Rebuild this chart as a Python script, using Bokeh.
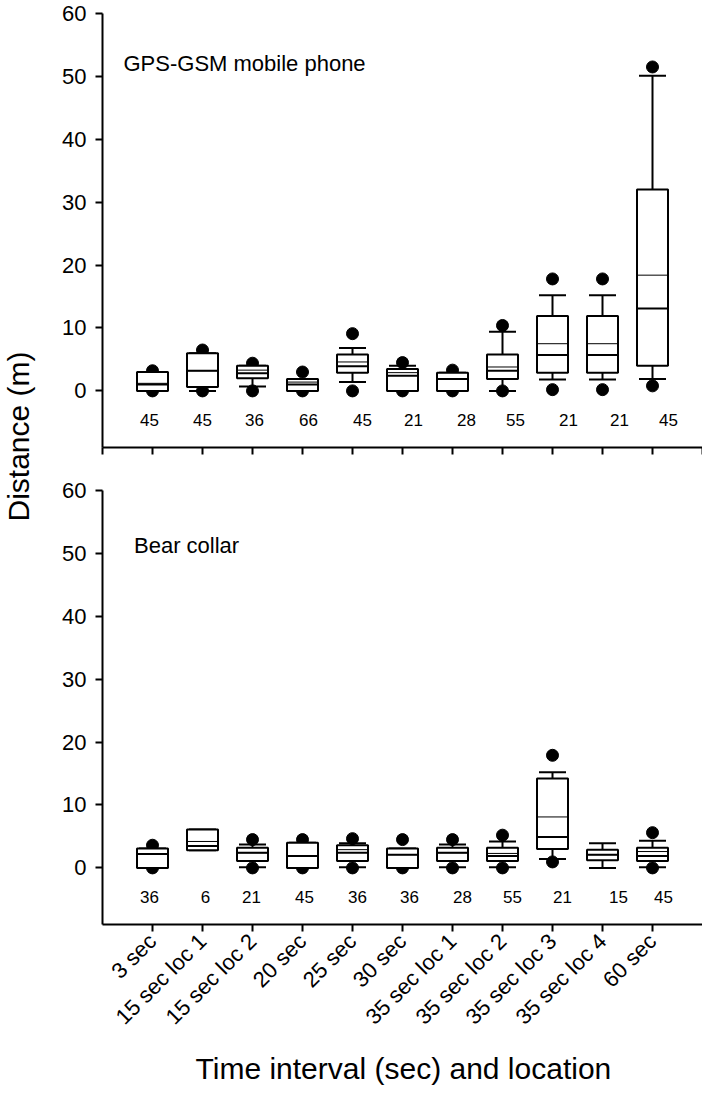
import numpy as np
from bokeh.plotting import figure
from bokeh.models import FixedTicker, Label, ColumnDataSource
from bokeh.layouts import row, column
from bokeh.embed import file_html
from bokeh.resources import INLINE
from bokeh.core.properties import value

# ---------------- data ----------------
categories = ["3 sec", "15 sec loc 1", "15 sec loc 2", "20 sec", "25 sec", "30 sec",
              "35 sec loc 1", "35 sec loc 2", "35 sec loc 3", "35 sec loc 4", "60 sec"]

# GPS-GSM mobile phone (m)
phone_q1 = [0.0, 0.6, 2.0, 0.0, 2.9, 0.0, 0.0, 1.9, 2.9, 2.9, 4.0]
phone_median = [1.0, 3.2, 2.8, 1.0, 3.9, 2.4, 1.9, 3.2, 5.7, 5.7, 13.1]
phone_mean = [1.2, 3.2, 3.3, 1.4, 4.6, 2.9, 1.9, 3.8, 7.5, 7.5, 18.4]
phone_q3 = [3.0, 6.0, 4.0, 1.9, 5.8, 3.5, 2.9, 5.8, 11.9, 11.9, 32.0]
phone_wlo = [0.0, 0.0, 0.7, 0.0, 1.4, 0.0, 0.0, 0.0, 1.8, 1.8, 1.9]
phone_whi = [3.0, 6.0, 4.0, 1.9, 6.8, 4.0, 2.9, 9.4, 15.2, 15.2, 50.1]
phone_plo = [0.0, 0.0, 0.0, 0.0, 0.0, 0.0, 0.0, 0.0, 0.2, 0.2, 0.8]
phone_phi = [3.2, 6.5, 4.4, 3.0, 9.1, 4.5, 3.3, 10.4, 17.8, 17.8, 51.5]
phone_n = [45, 45, 36, 66, 45, 21, 28, 55, 21, 21, 45]

# Bear collar (m)
collar_q1 = [0.0, 2.8, 1.1, 0.0, 1.1, 0.0, 1.1, 1.1, 3.0, 1.2, 1.1]
collar_median = [2.2, 3.5, 2.4, 1.9, 2.4, 2.1, 2.4, 1.9, 4.9, 2.1, 1.9]
collar_mean = [2.2, 4.2, 2.4, 1.9, 2.9, 2.1, 2.4, 2.3, 8.1, 2.1, 2.6]
collar_q3 = [3.1, 6.1, 3.2, 4.0, 3.6, 3.1, 3.2, 3.2, 14.2, 2.9, 3.2]
collar_wlo = [0.0, 2.8, 0.1, 0.0, 0.1, 0.0, 0.1, 0.1, 1.4, 0.0, 0.1]
collar_whi = [3.1, 6.1, 3.7, 4.0, 3.9, 3.1, 3.7, 4.2, 15.2, 3.9, 4.3]
collar_plo = [0.0, None, 0.0, 0.0, 0.0, 0.0, 0.0, 0.0, 0.95, None, 0.0]
collar_phi = [3.6, None, 4.5, 4.5, 4.65, 4.5, 4.5, 5.2, 17.9, None, 5.6]
collar_n = [36, 6, 21, 45, 36, 36, 28, 55, 21, 15, 45]

y_ticks = [0, 10, 20, 30, 40, 50, 60]

# ---------------- style ----------------
FONT = "Liberation Sans"
BOX_HALF = 0.31
CAP_HALF = 0.27
N_Y = -4.7
# small horizontal shifts (px) of the n labels, as placed in the original
phone_n_shift_px = [-3, 0, 2, 6, 10, 11, 14, 13, 16, 17, 16]
collar_n_shift_px = [-3, 3, -1, 2, 5, 7, 10, 10, 10, 16, 11]


def arr(v):
    return np.array([np.nan if a is None else a for a in v], dtype=float)


def bare(p):
    p.xgrid.visible = False
    p.ygrid.visible = False
    p.outline_line_color = None
    p.background_fill_color = "white"
    p.border_fill_color = "white"


def style(p):
    bare(p)
    p.yaxis.ticker = FixedTicker(ticks=y_ticks)
    for ax in list(p.xaxis) + list(p.yaxis):
        ax.axis_line_width = 2
        ax.axis_line_color = "black"
        ax.major_tick_line_width = 2
        ax.major_tick_line_color = "black"
        ax.major_tick_out = 7
        ax.major_tick_in = 0
        ax.minor_tick_out = 0
        ax.minor_tick_in = 0
        ax.major_label_text_font = FONT
        ax.major_label_text_font_size = "22px"
        ax.major_label_text_color = "black"
    p.yaxis.major_label_standoff = 9


def draw_boxes(p, q1, med, mean, q3, wlo, whi, plo, phi, n, shift_px, px_per_unit):
    xs = np.arange(1, len(categories) + 1, dtype=float)
    q1, med, mean, q3 = arr(q1), arr(med), arr(mean), arr(q3)
    wlo, whi, plo, phi = arr(wlo), arr(whi), arr(plo), arr(phi)

    # percentile dots (drawn first, boxes cover them)
    for pts in (plo, phi):
        m = ~np.isnan(pts)
        p.scatter(xs[m], pts[m], size=12, color="black")

    # whisker stems
    p.segment(xs, q3, xs, whi, line_color="black", line_width=2)
    p.segment(xs, q1, xs, wlo, line_color="black", line_width=2)
    # caps
    p.segment(xs - CAP_HALF, whi, xs + CAP_HALF, whi, line_color="black", line_width=2)
    p.segment(xs - CAP_HALF, wlo, xs + CAP_HALF, wlo, line_color="black", line_width=2)

    # boxes
    p.quad(left=xs - BOX_HALF, right=xs + BOX_HALF, bottom=q1, top=q3,
           fill_color="white", line_color="black", line_width=2)
    # median (thick) and mean (thin)
    p.segment(xs - BOX_HALF, med, xs + BOX_HALF, med, line_color="black", line_width=2)
    p.segment(xs - BOX_HALF, mean, xs + BOX_HALF, mean, line_color="black", line_width=1)

    # n labels
    tx = xs + np.array(shift_px) / px_per_unit
    src = ColumnDataSource(dict(x=tx, y=[N_Y] * len(xs), t=[str(v) for v in n]))
    p.text(x="x", y="y", text="t", source=src, text_font=value(FONT),
           text_font_size="17px", text_align="center", text_baseline="middle",
           text_color="black")


TOTAL_H = 1085
LABEL_W = 40
PANEL_W = 662
TOP_H = 468
BOT_H = 578
TITLE_H = TOTAL_H - TOP_H - BOT_H

# ---------- top panel ----------
top = figure(width=PANEL_W, height=TOP_H, x_range=(0, 12), y_range=(-9, 60),
             output_backend="svg", toolbar_location=None,
             min_border_left=59, min_border_right=0, min_border_top=13, min_border_bottom=21)
style(top)
# tick marks only (no labels) on the upper panel's x axis
top.xaxis.ticker = FixedTicker(ticks=[], minor_ticks=list(range(0, 13)))
top.xaxis.minor_tick_out = 7
top.xaxis.minor_tick_in = 0
top.xaxis.minor_tick_line_width = 2
top.xaxis.minor_tick_line_color = "black"
draw_boxes(top, phone_q1, phone_median, phone_mean, phone_q3, phone_wlo, phone_whi,
           phone_plo, phone_phi, phone_n, phone_n_shift_px, 603 / 12)
top.add_layout(Label(x=0.42, y=52.1, text="GPS-GSM mobile phone", text_font=FONT,
                     text_font_size="22px", text_baseline="alphabetic", text_color="black"))

# ---------- bottom panel ----------
bot = figure(width=PANEL_W, height=BOT_H, x_range=(0, 12), y_range=(-9, 60),
             output_backend="svg", toolbar_location=None,
             min_border_left=62, min_border_right=0, min_border_top=22, min_border_bottom=122)
style(bot)
bot.xaxis.ticker = FixedTicker(ticks=list(range(1, len(categories) + 1)))
bot.xaxis.major_label_overrides = {i + 1: c for i, c in enumerate(categories)}
bot.xaxis.major_label_orientation = np.pi / 4
bot.xaxis.major_label_standoff = 6
draw_boxes(bot, collar_q1, collar_median, collar_mean, collar_q3, collar_wlo, collar_whi,
           collar_plo, collar_phi, collar_n, collar_n_shift_px, 600 / 12)
bot.add_layout(Label(x=0.63, y=51.25, text="Bear collar", text_font=FONT,
                     text_font_size="22px", text_baseline="alphabetic", text_color="black"))

# ---------- x-axis title strip ----------
xt = figure(width=PANEL_W, height=TITLE_H, x_range=(0, PANEL_W), y_range=(0, TITLE_H),
            output_backend="svg", toolbar_location=None, min_border=0)
xt.axis.visible = False
bare(xt)
xt.text(x=[332], y=[TITLE_H - 22], text=["Time interval (sec) and location"],
        text_font=value(FONT), text_font_size="30px", text_align="center",
        text_baseline="middle", text_color="black")

# ---------- shared y label ----------
lab = figure(width=LABEL_W, height=TOTAL_H, x_range=(0, LABEL_W), y_range=(0, TOTAL_H),
             output_backend="svg", toolbar_location=None, min_border=0)
lab.axis.visible = False
bare(lab)
lab.text(x=[18], y=[TOTAL_H - 436], text=["Distance (m)"], angle=np.pi / 2,
         text_font=value(FONT), text_font_size="30px", text_align="center",
         text_baseline="middle", text_color="black")

layout = row(lab, column(top, bot, xt, spacing=0), spacing=0)
open("out.html", "w").write(file_html(layout, INLINE))
